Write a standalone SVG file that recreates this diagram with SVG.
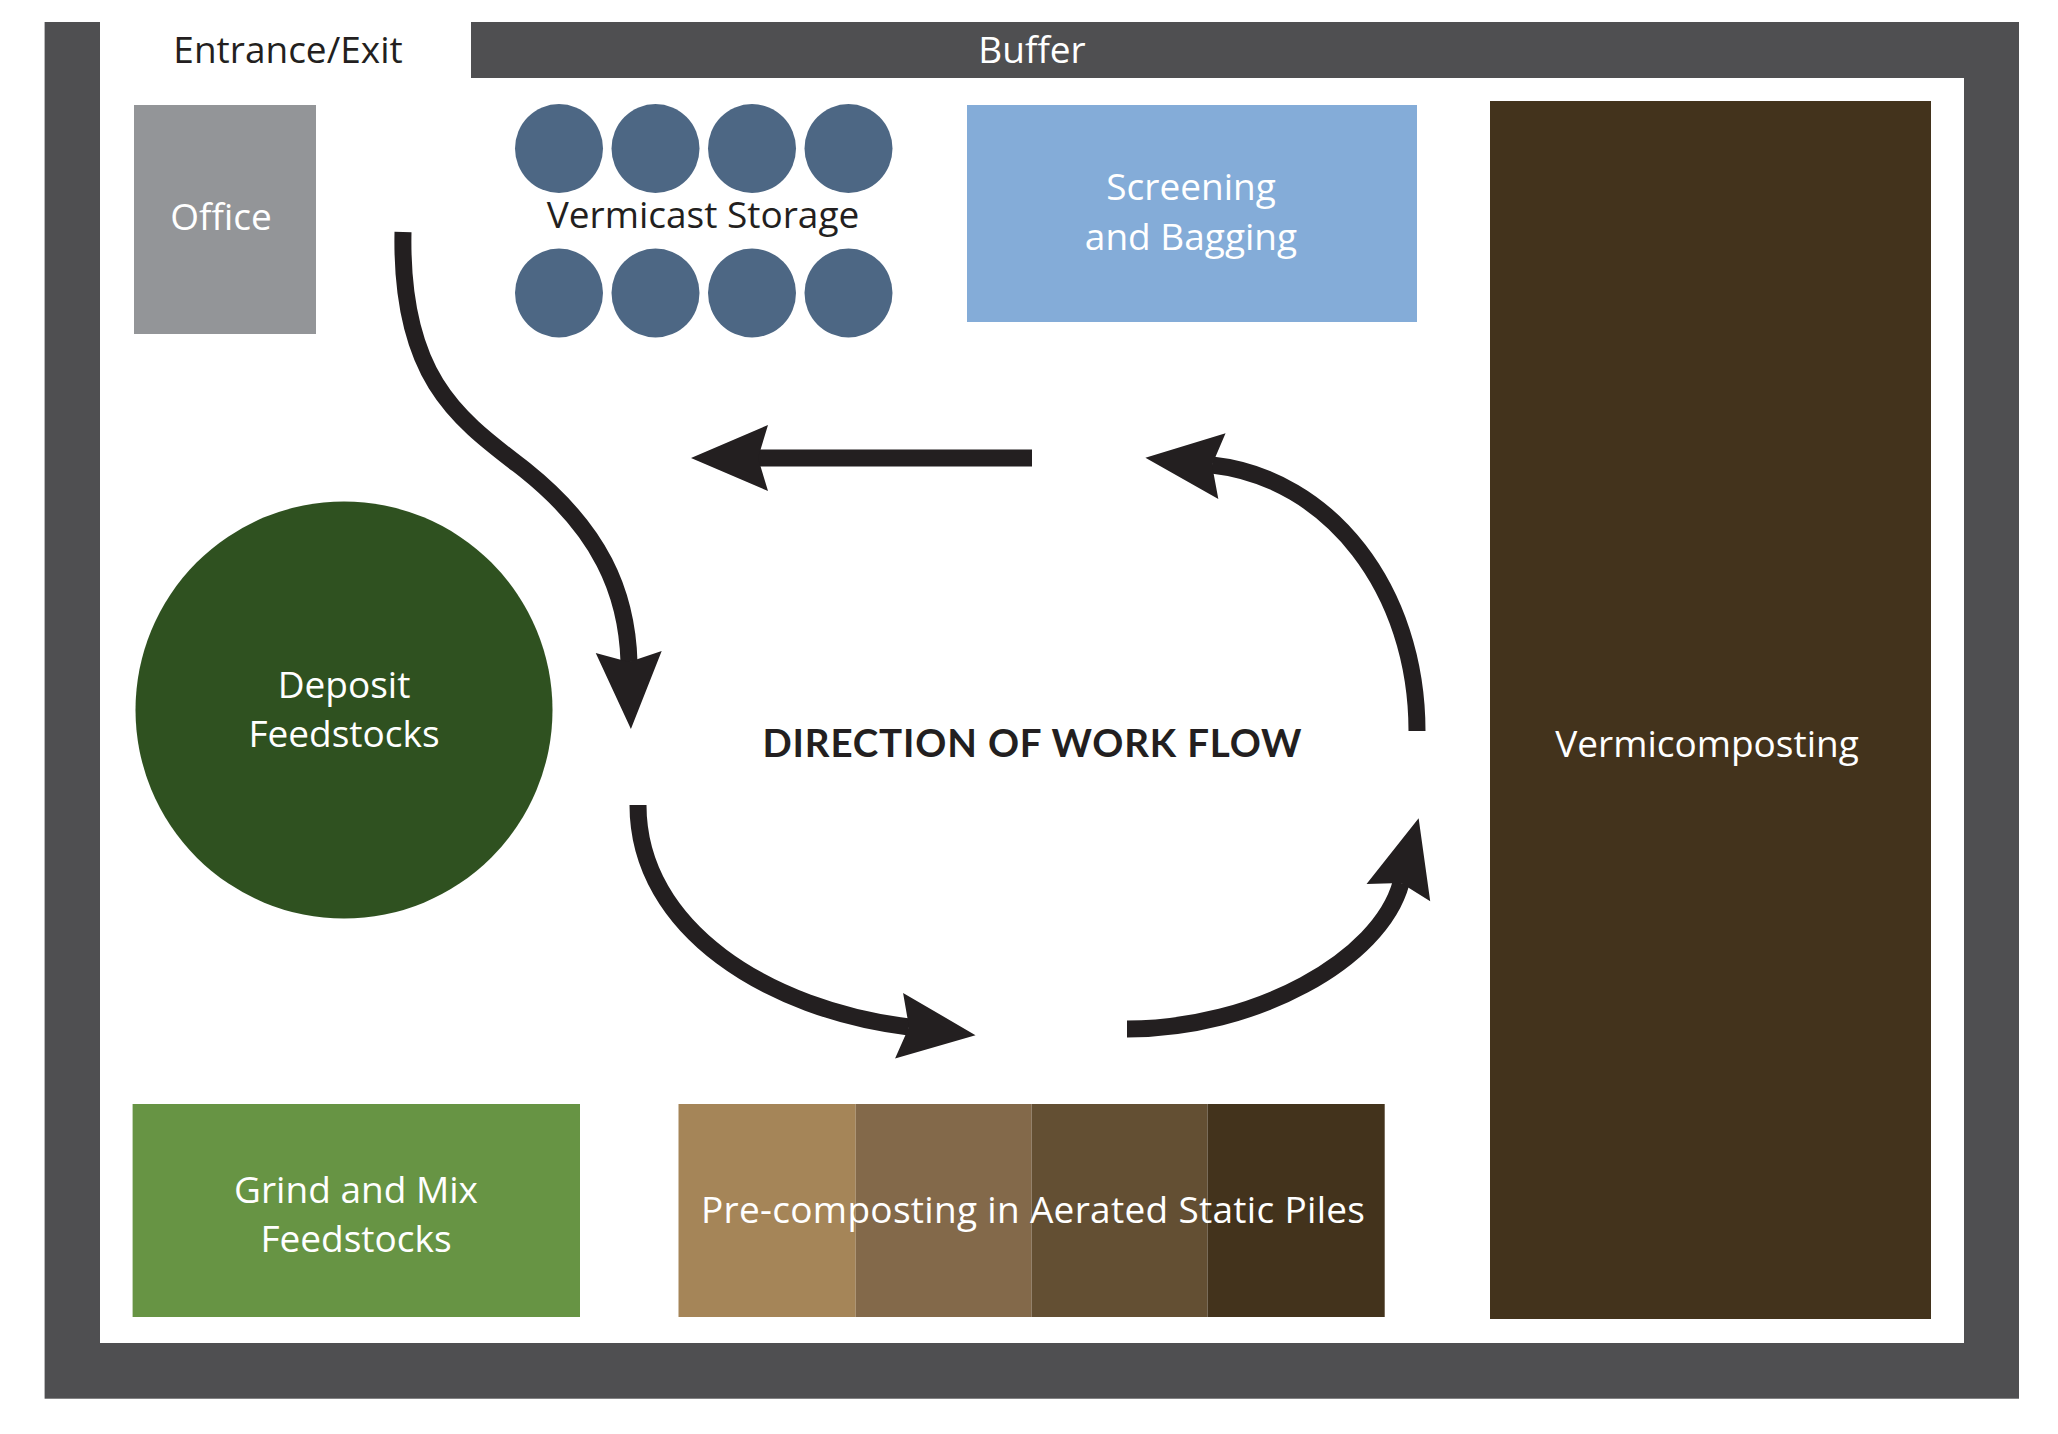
<svg xmlns="http://www.w3.org/2000/svg" width="2058" height="1434" viewBox="0 0 2058 1434">
<style>
.lbl{font-family:"Open Sans","Liberation Sans",sans-serif;font-size:37px;font-weight:500;text-anchor:middle}
.w{fill:#ffffff}
.d{fill:#231f20}
.flow{fill:none;stroke:#231f20;stroke-width:17;stroke-linecap:butt}
.silo{fill:#4d6784}
</style>
<defs>
<marker id="ah" markerUnits="userSpaceOnUse" markerWidth="90" markerHeight="80" refX="10" refY="0" orient="auto" overflow="visible">
<path d="M0,-33 L77,0 L0,33 L10,0 Z" fill="#231f20"/>
</marker>
</defs>
<rect width="2058" height="1434" fill="#ffffff"/>
<g id="site">
<rect x="44.6" y="22" width="1974.4" height="1376.7" fill="#4f4f51"/>
<rect x="100" y="78" width="1864" height="1265" fill="#ffffff"/>
<rect x="100" y="22" width="371" height="57" fill="#ffffff"/>
<text class="lbl d" x="288" y="63">Entrance/Exit</text>
<text class="lbl w" x="1032" y="63">Buffer</text>
</g>
<g id="office">
<rect x="134" y="105" width="182" height="229" fill="#939598"/>
<text class="lbl w" x="221" y="230">Office</text>
</g>
<g id="vermicast-storage">
<ellipse class="silo" cx="559" cy="148.5" rx="44" ry="44.5"/>
<ellipse class="silo" cx="655.5" cy="148.5" rx="44" ry="44.5"/>
<ellipse class="silo" cx="752" cy="148.5" rx="44" ry="44.5"/>
<ellipse class="silo" cx="848.5" cy="148.5" rx="44" ry="44.5"/>
<ellipse class="silo" cx="559" cy="293" rx="44" ry="44.5"/>
<ellipse class="silo" cx="655.5" cy="293" rx="44" ry="44.5"/>
<ellipse class="silo" cx="752" cy="293" rx="44" ry="44.5"/>
<ellipse class="silo" cx="848.5" cy="293" rx="44" ry="44.5"/>
<text class="lbl d" x="703" y="228">Vermicast Storage</text>
</g>
<g id="screening">
<rect x="967" y="105" width="450" height="217" fill="#84acd8"/>
<text class="lbl w" x="1191" y="200">Screening</text>
<text class="lbl w" x="1191" y="250">and Bagging</text>
</g>
<g id="vermicomposting">
<rect x="1490" y="101" width="441" height="1218" fill="#43331c"/>
<text class="lbl w" x="1707" y="757">Vermicomposting</text>
</g>
<g id="deposit">
<circle cx="344" cy="710" r="208.5" fill="#2f5120"/>
<text class="lbl w" x="344" y="698">Deposit</text>
<text class="lbl w" x="344" y="747">Feedstocks</text>
</g>
<g id="grind">
<rect x="132.6" y="1104" width="447.4" height="213" fill="#679444"/>
<text class="lbl w" x="356" y="1203">Grind and Mix</text>
<text class="lbl w" x="356" y="1252">Feedstocks</text>
</g>
<g id="precomposting">
<rect x="678.5" y="1104" width="177.2" height="213" fill="#a58558"/>
<rect x="855.7" y="1104" width="175.9" height="213" fill="#83694a"/>
<rect x="1031.6" y="1104" width="175.9" height="213" fill="#634f33"/>
<rect x="1207.5" y="1104" width="177.2" height="213" fill="#43331c"/>
<text class="lbl w" x="1033" y="1223" textLength="664" lengthAdjust="spacing">Pre-composting in Aerated Static Piles</text>
</g>
<g id="workflow-label">
<text x="1032" y="757" font-family="Lato, 'Liberation Sans', sans-serif" font-weight="bold" font-size="38.5" fill="#231f20" text-anchor="middle" textLength="539" lengthAdjust="spacing">DIRECTION OF WORK FLOW</text>
</g>
<g id="connectors">
<path class="flow" marker-end="url(#ah)" d="M403,232 C400,380 460,420 525,470 C600,530 627,592 629,662"/>
<path class="flow" marker-end="url(#ah)" d="M1032,458 L758,458"/>
<path class="flow" marker-end="url(#ah)" d="M1417,731 C1417,590 1330,478 1212,465"/>
<path class="flow" marker-end="url(#ah)" d="M638,805 C638,930 770,1010 909,1027"/>
<path class="flow" marker-end="url(#ah)" d="M1127,1029 C1255,1029 1380,960 1401,883"/>
</g>
</svg>
